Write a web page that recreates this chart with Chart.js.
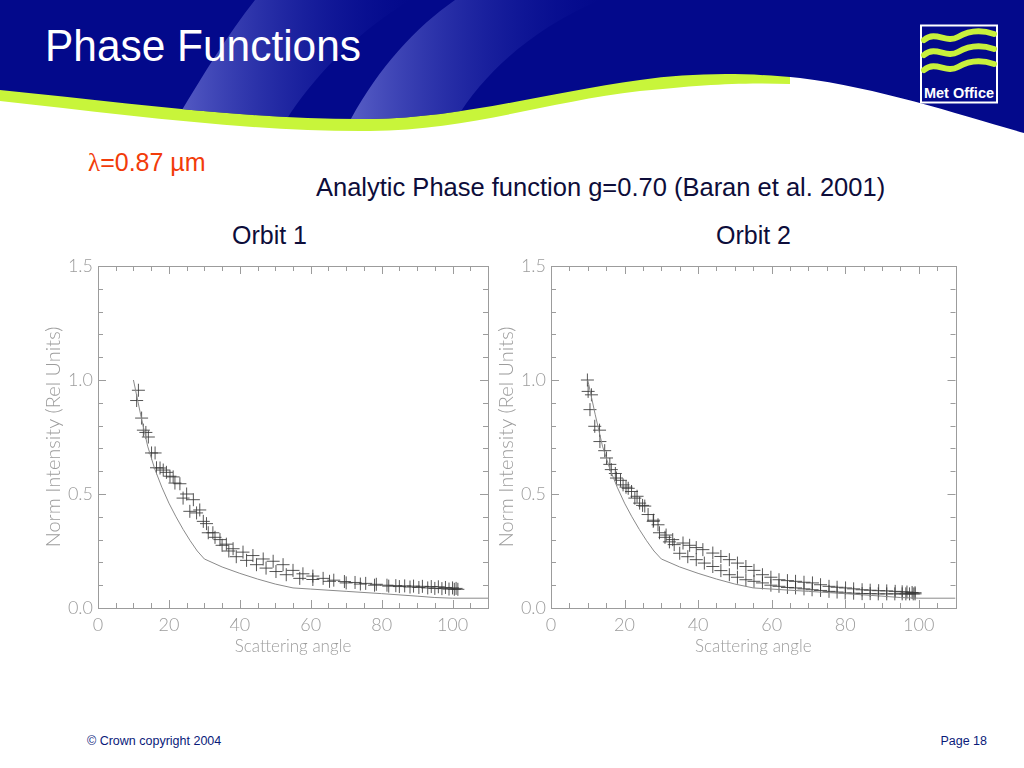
<!DOCTYPE html>
<html>
<head>
<meta charset="utf-8">
<script src="https://cdn.jsdelivr.net/npm/chart.js@4.4.1/dist/chart.umd.min.js"></script>
<style>
  body { margin: 0; width: 1024px; height: 768px; background: #fff; position: relative; overflow: hidden; font-family: "Liberation Sans", Arial, sans-serif; }
  .abs { position: absolute; }
  .txt { position: absolute; white-space: nowrap; color: #0d0d3a; font-size: 25.5px; line-height: 29px; }
  .foot { position: absolute; top: 734px; font-size: 12.5px; color: #0a1a7a; }
  canvas { position: absolute; }
</style>
</head>
<body>

<!-- Kopfzeile -->
<svg class="abs" style="left:0;top:0" width="1024" height="140">
  <defs>
    <clipPath id="blueClip">
      <path d="M0,0 H1024 V133 C960,115 880,88 800,78 C740,72 690,73 640,80 C540,94 460,118 370,119 C250,120 120,102 0,90 Z"/>
    </clipPath>
    <linearGradient id="stripeGrad" x1="0" y1="0" x2="1" y2="0">
      <stop offset="0" stop-color="#6a70d2" stop-opacity="0.85"/>
      <stop offset="1" stop-color="#1a24a8" stop-opacity="0"/>
    </linearGradient>
  </defs>
  <path d="M0,84 L0,101 C120,114 250,132 370,131 C470,130 545,102 640,91 C700,85 740,82 790,84 L790,70 Z" fill="#c8f53a"/>
  <g clip-path="url(#blueClip)">
    <rect x="0" y="0" width="1024" height="140" fill="#03098b"/>
    <path d="M255,0 L410,0 C345,40 305,88 280,130 L170,130 C200,80 225,38 255,0 Z" fill="url(#stripeGrad)"/>
    <path d="M455,0 L600,0 C525,32 475,82 450,130 L345,130 C375,72 412,30 455,0 Z" fill="url(#stripeGrad)"/>
  </g>
  <text x="45" y="61" fill="#fff" font-size="44" font-family="Liberation Sans, Arial, sans-serif" textLength="316" lengthAdjust="spacingAndGlyphs">Phase Functions</text>
  <!-- Logo -->
  <rect x="921" y="25.5" width="76" height="77" fill="none" stroke="#fff" stroke-width="2"/>
  <g fill="none" stroke="#c8f03c" stroke-linecap="round">
    <path d="M924,40 C936,30 946,44 958,37 C970,30 982,30 994,34" stroke-width="6"/>
    <path d="M924,55 C936,45 946,59 958,52 C970,45 982,45 994,49" stroke-width="6"/>
    <path d="M924,70 C936,60 946,74 958,67 C970,60 982,60 994,64" stroke-width="6"/>
  </g>
  <text x="924" y="98" fill="#fff" font-size="14" font-weight="bold" font-family="Liberation Sans Narrow, Liberation Sans, Arial, sans-serif" textLength="70" lengthAdjust="spacingAndGlyphs">Met Office</text>
</svg>

<div class="txt" style="left:88px;top:148px;color:#f23c0a;font-size:25px;"><span style="font-family:'Liberation Serif','DejaVu Serif',serif;">λ</span>=0.87 µm</div>
<div class="txt" style="left:316px;top:173px;">Analytic Phase function g=0.70 (Baran et al. 2001)</div>
<div class="txt" style="left:232px;top:221px;font-size:25px;">Orbit 1</div>
<div class="txt" style="left:716px;top:221px;font-size:25px;">Orbit 2</div>

<canvas id="orbit1" width="460" height="413" style="left:40px;top:252px;"></canvas>
<canvas id="orbit2" width="470" height="413" style="left:493px;top:252px;"></canvas>

<div class="foot" style="left:87px;">© Crown copyright 2004</div>
<div class="foot" style="right:37px;">Page 18</div>

<script>
// Achsen
const xTicks = [0, 20, 40, 60, 80, 100];
const xMinorTicks = [0, 5, 10, 15, 20, 25, 30, 35, 40, 45, 50, 55, 60, 65, 70, 75, 80, 85, 90, 95, 100, 105, 110];
const yTicks = [0, 0.5, 1.0, 1.5];
const yMinorTicks = [0, 0.1, 0.2, 0.3, 0.4, 0.5, 0.6, 0.7, 0.8, 0.9, 1.0, 1.1, 1.2, 1.3, 1.4, 1.5];

// Analytische Phasenfunktion (g=0.70)
const analyticAngle = [10, 12, 14, 16, 18, 20, 22, 24, 26, 28, 30, 35, 40, 45, 50, 55, 60, 70, 80, 90, 95, 100, 110];
const analyticPhase = [1.0, 0.85, 0.71, 0.61, 0.53, 0.46, 0.40, 0.345, 0.295, 0.25, 0.215, 0.18, 0.152, 0.127, 0.105, 0.088, 0.083, 0.073, 0.063, 0.052, 0.046, 0.043, 0.043];

// Orbit 1 Messungen
const orbit1AngleA = [11.4, 12.8, 14.2, 16.1, 17.5, 19.3, 21.2, 23.1, 25.0, 26.9, 28.7, 30.6, 32.4, 34.4, 36.2, 38.1, 40.9, 43.7, 46.6, 49.4, 52.2, 55.0, 57.8, 60.6, 63.5, 66.5, 69.5, 72.5, 75.5, 78.5, 81.5, 84.0, 86.5, 89.0, 91.5, 94.0, 96.0, 98.0, 100.0, 101.0];
const orbit1PhaseA = [0.955, 0.78, 0.75, 0.68, 0.614, 0.595, 0.575, 0.545, 0.50, 0.475, 0.43, 0.37, 0.33, 0.30, 0.28, 0.26, 0.245, 0.23, 0.215, 0.205, 0.19, 0.165, 0.15, 0.14, 0.13, 0.122, 0.116, 0.112, 0.108, 0.104, 0.10, 0.098, 0.097, 0.096, 0.095, 0.094, 0.093, 0.09, 0.088, 0.086];
const orbit1AngleB = [10.9, 12.3, 13.5, 15.1, 16.5, 18.4, 20.3, 21.7, 24.0, 25.9, 27.8, 29.7, 31.1, 33.0, 35.0, 36.9, 39.0, 41.9, 44.7, 47.4, 50.2, 53.1, 56.9, 60.6, 65.3, 70.0, 74.0, 78.0, 82.0, 85.0, 88.0, 90.5, 93.0, 95.0, 97.0, 99.0, 100.5, 101.5];
const orbit1PhaseB = [0.91, 0.833, 0.77, 0.68, 0.615, 0.605, 0.578, 0.548, 0.482, 0.424, 0.417, 0.38, 0.33, 0.31, 0.275, 0.25, 0.225, 0.209, 0.19, 0.175, 0.16, 0.146, 0.13, 0.125, 0.117, 0.11, 0.105, 0.10, 0.096, 0.094, 0.092, 0.09, 0.088, 0.086, 0.085, 0.083, 0.082, 0.082];

// Orbit 2 Messungen
const orbit2AngleA = [9.9, 11.0, 13.2, 15.1, 16.4, 17.8, 19.6, 21.0, 22.8, 24.1, 25.5, 27.8, 29.1, 31.3, 33.1, 35.9, 37.7, 39.5, 41.3, 44.0, 46.2, 48.5, 50.7, 53.0, 55.2, 57.5, 59.8, 62.0, 64.3, 66.5, 68.8, 71.1, 73.3, 75.6, 77.8, 80.1, 82.3, 84.6, 86.8, 89.1, 91.3, 93.6, 95.5, 96.8, 98.2, 99.0];
const orbit2PhaseA = [1.0, 0.935, 0.78, 0.658, 0.607, 0.57, 0.54, 0.525, 0.482, 0.46, 0.447, 0.38, 0.365, 0.32, 0.30, 0.285, 0.275, 0.265, 0.256, 0.241, 0.226, 0.212, 0.197, 0.182, 0.165, 0.146, 0.135, 0.124, 0.12, 0.117, 0.113, 0.11, 0.102, 0.095, 0.091, 0.088, 0.084, 0.08, 0.078, 0.076, 0.075, 0.073, 0.071, 0.07, 0.068, 0.067];
const orbit2AngleB = [10.1, 10.6, 11.9, 13.3, 14.6, 16.0, 17.5, 18.9, 20.4, 21.9, 23.4, 24.9, 26.4, 27.9, 29.5, 31.0, 32.2, 33.5, 35.0, 37.2, 39.5, 41.7, 44.0, 46.2, 48.5, 50.7, 53.0, 55.2, 57.5, 59.8, 62.0, 64.3, 66.5, 68.8, 71.0, 73.3, 75.6, 77.8, 80.0, 82.3, 84.6, 86.8, 89.0, 91.3, 93.5, 95.5, 96.5, 97.5, 98.5, 99.0];
const orbit2PhaseB = [0.95, 0.87, 0.797, 0.73, 0.69, 0.63, 0.59, 0.56, 0.53, 0.511, 0.49, 0.45, 0.41, 0.385, 0.33, 0.31, 0.29, 0.278, 0.24, 0.225, 0.212, 0.197, 0.182, 0.164, 0.146, 0.135, 0.124, 0.117, 0.11, 0.10, 0.095, 0.09, 0.088, 0.084, 0.08, 0.077, 0.073, 0.07, 0.066, 0.065, 0.063, 0.063, 0.062, 0.062, 0.062, 0.062, 0.062, 0.062, 0.062, 0.062];

const axisColor = '#9c9c9c';
const tickFont = { family: "Lato, 'DejaVu Sans', sans-serif", size: 18, weight: 300, lineHeight: 1.0 };
const titleFont = { family: "Lato, 'DejaVu Sans', sans-serif", size: 17, weight: 300 };

const toPoints = (xs, ys) => xs.map((x, i) => ({ x: x, y: ys[i] }));

// Rahmen mit Innen-Ticks auf allen vier Seiten
const frameTicks = {
    id: 'frameTicks',
    beforeDatasetsDraw(chart) {
        const { ctx, chartArea: a, scales: { x, y } } = chart;
        ctx.save();
        ctx.strokeStyle = axisColor;
        ctx.lineWidth = 1;
        ctx.strokeRect(Math.round(a.left) + 0.5, Math.round(a.top) + 0.5, Math.round(a.right - a.left), Math.round(a.bottom - a.top));
        ctx.beginPath();
        xMinorTicks.forEach(v => {
            const px = Math.round(x.getPixelForValue(v)) + 0.5;
            const len = xTicks.includes(v) ? 8 : 5;
            ctx.moveTo(px, a.bottom); ctx.lineTo(px, a.bottom - len);
            ctx.moveTo(px, a.top); ctx.lineTo(px, a.top + len);
        });
        yMinorTicks.forEach(v => {
            const py = Math.round(y.getPixelForValue(v)) + 0.5;
            const len = yTicks.some(t => Math.abs(t - v) < 1e-6) ? 8 : 5;
            ctx.moveTo(a.left, py); ctx.lineTo(a.left + len, py);
            ctx.moveTo(a.right, py); ctx.lineTo(a.right - len, py);
        });
        ctx.stroke();
        ctx.restore();
    }
};

function makeChart(id, angA, phA, angB, phB, rightPad) {
    const ctx = document.getElementById(id).getContext('2d');
    const crossStyle = {
        showLine: false,
        pointStyle: 'cross',
        pointRadius: 6.5,
        borderColor: 'rgba(55,55,55,0.85)',
        borderWidth: 1
    };
    return new Chart(ctx, {
        type: 'scatter',
        data: {
            datasets: [
                {
                    label: 'Analytic',
                    data: toPoints(analyticAngle, analyticPhase),
                    showLine: true,
                    pointRadius: 0,
                    borderColor: '#8a8a8a',
                    borderWidth: 1,
                    tension: 0
                },
                Object.assign({ label: 'A', data: toPoints(angA, phA) }, crossStyle),
                Object.assign({ label: 'B', data: toPoints(angB, phB) }, crossStyle)
            ]
        },
        options: {
            responsive: false,
            animation: false,
            layout: { padding: { top: 10, right: rightPad, left: 0, bottom: 0 } },
            plugins: { legend: { display: false }, tooltip: { enabled: false } },
            scales: {
                x: {
                    type: 'linear',
                    min: 0,
                    max: 110,
                    afterBuildTicks: s => { s.ticks = xTicks.map(v => ({ value: v })); },
                    afterFit: s => { s.height = 57; },
                    grid: { display: false, drawTicks: false },
                    border: { display: false },
                    ticks: { color: axisColor, font: tickFont, padding: 8, maxRotation: 0 },
                    title: { display: true, text: 'Scattering angle', color: axisColor, font: titleFont, padding: { top: 0, bottom: 8 } }
                },
                y: {
                    type: 'linear',
                    min: 0,
                    max: 1.5,
                    afterBuildTicks: s => { s.ticks = yTicks.map(v => ({ value: v })); },
                    afterFit: s => { s.width = 58; },
                    grid: { display: false, drawTicks: false },
                    border: { display: false },
                    ticks: { color: axisColor, font: tickFont, padding: 5, callback: v => Number(v).toFixed(1) },
                    title: { display: true, text: 'Norm Intensity (Rel Units)', color: axisColor, font: Object.assign({}, titleFont, { size: 20 }), padding: { top: 2, bottom: 0 } }
                }
            }
        },
        plugins: [frameTicks]
    });
}

makeChart('orbit1', orbit1AngleA, orbit1PhaseA, orbit1AngleB, orbit1PhaseB, 12);
makeChart('orbit2', orbit2AngleA, orbit2PhaseA, orbit2AngleB, orbit2PhaseB, 6);
</script>
</body>
</html>
